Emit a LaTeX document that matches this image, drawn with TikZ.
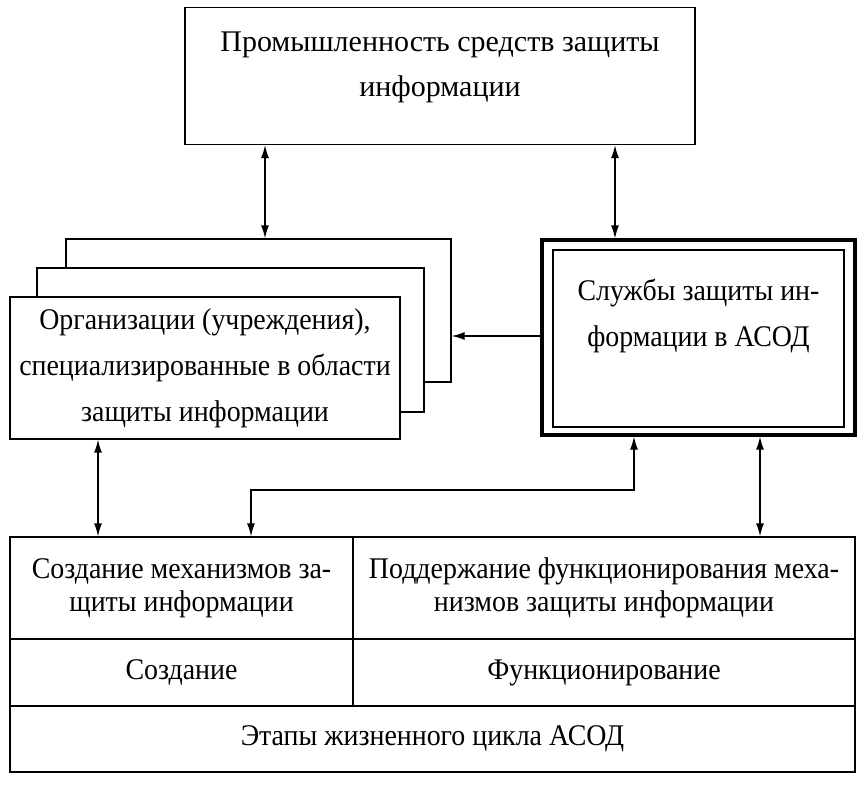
\documentclass[tikz,border=0pt]{standalone}
\usepackage{fontspec}
\setmainfont{Liberation Serif}
\newfontfamily\narrowserif{Liberation Serif}[FakeStretch=0.93]
\usetikzlibrary{arrows.meta,calc}

\tikzset{
  box/.style={draw, line width=1.3pt, fill=white, inner sep=0pt, align=center},
  txt/.style={align=center, inner sep=0pt, font=\narrowserif\fontsize{30}{46}\selectfont},
  cell/.style={box, font=\narrowserif\fontsize{30}{33}\selectfont},
  link/.style={line width=1.4pt, {Latex[length=13pt,width=8pt]}-{Latex[length=13pt,width=8pt]}},
  feed/.style={line width=1.4pt, -{Latex[length=13pt,width=8pt]}},
}

\begin{document}
\begin{tikzpicture}[x=1pt, y=-1pt]
\useasboundingbox (0,0) rectangle (868,786);
% industry box
\node[box, minimum width=510pt, minimum height=137pt] (prom) at (440,76) {};
\node[txt, font=\fontsize{30}{45}\selectfont] (promtext) at ([yshift=9pt]prom.center)
    {Промышленность средств защиты\\информации};
% stack of organisations, back to front
\node[box, minimum width=385pt, minimum height=143pt] (orgback) at (258.5,310.5) {};
\node[box, minimum width=387pt, minimum height=144pt] (orgmid) at (230.5,340) {};
\node[box, minimum width=390pt, minimum height=142pt] (org) at (205,368) {};
\node[txt] (orgtext) at (org.center)
    {Организации (учреждения),\\специализированные в области\\защиты информации};
% services, double frame
\node[box, line width=3.2pt, minimum width=313pt, minimum height=195pt] (sluzh) at (698.5,337.5) {};
\node[box, minimum width=291pt, minimum height=177pt] (sluzhin) at (698.5,338.5) {};
\node[txt] (sluzhtext) at ([yshift=22pt]sluzh.center)
    {Службы защиты ин-\\формации в АСОД};
% life cycle table
\node[cell, minimum width=343pt, minimum height=102pt] (create) at (181.5,588)
    {Создание механизмов за-\\щиты информации};
\node[cell, minimum width=502pt, minimum height=102pt] (support) at (604,588)
    {Поддержание функционирования меха-\\низмов защиты информации};
\node[cell, minimum width=343pt, minimum height=67pt] (stagea) at (181.5,672.5) {Создание};
\node[cell, minimum width=502pt, minimum height=67pt] (stageb) at (604,672.5) {Функционирование};
\node[cell, minimum width=845pt, minimum height=66pt] (cycle) at (432.5,739)
    {Этапы жизненного цикла АСОД};
% connectors
\coordinate (ua) at (265,0);
\coordinate (ub) at (615,0);
\coordinate (uc) at (0,336);
\coordinate (ud) at (98,0);
\coordinate (ue) at (634,0);
\coordinate (uf) at (760,0);
\coordinate (bend) at (251,490);
\draw[link] (prom.south -| ua) -- (orgback.north -| ua);
\draw[link] (prom.south -| ub) -- (sluzh.north -| ub);
\draw[feed] (sluzh.west |- uc) -- (orgback.east |- uc);
\draw[link] (org.south -| ud) -- (create.north -| ud);
\draw[link] (sluzh.south -| ue) |- (bend) -- (create.north -| bend);
\draw[link] (sluzh.south -| uf) -- (support.north -| uf);
\end{tikzpicture}
\end{document}
